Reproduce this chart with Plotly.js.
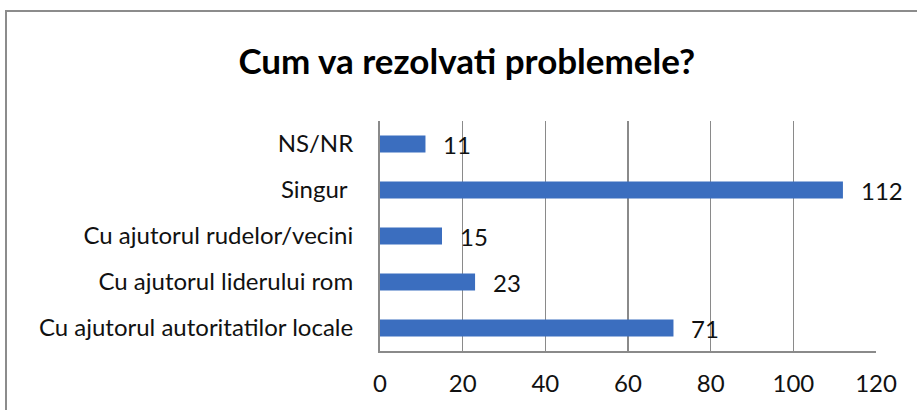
<!DOCTYPE html>
<html>
<head>
<meta charset="utf-8">
<script src="https://cdn.plot.ly/plotly-3.0.1.min.js"></script>
<style>
html,body{margin:0;padding:0;background:#fff;}
#wrap{position:relative;width:917px;height:410px;overflow:hidden;}
#frame{position:absolute;left:5px;top:10px;width:930px;height:420px;border-top:2px solid #8c8c8c;border-left:2px solid #8c8c8c;box-sizing:border-box;pointer-events:none;}
#chart{position:absolute;left:0;top:0;width:917px;height:410px;}
</style>
</head>
<body>
<div id="wrap">
<div id="chart"></div>
<div id="frame"></div>
</div>
<script>
var categories = ["Cu ajutorul autoritatilor locale", "Cu ajutorul liderului rom", "Cu ajutorul rudelor/vecini", "Singur ", "NS/NR"];
var values = [71, 23, 15, 112, 11];
var tickVals = [0, 20, 40, 60, 80, 100, 120];

var font = "Lato, Open Sans, sans-serif";

var trace = {
  type: "bar",
  orientation: "h",
  y: categories,
  x: values,
  marker: {color: "#3b6ebf", line: {width: 0}},
  hoverinfo: "none"
};

var annotations = values.map(function(v, i){
  return {
    x: v, y: categories[i], xref: "x", yref: "y",
    text: String(v), showarrow: false,
    xanchor: "left", yanchor: "middle", xshift: 16,
    font: {family: font, size: 24, color: "#111"}
  };
});

var layout = {
  width: 917, height: 410,
  margin: {l: 380, r: 41, t: 121, b: 59, pad: 0},
  paper_bgcolor: "rgba(0,0,0,0)",
  plot_bgcolor: "#fff",
  showlegend: false,
  bargap: 0.63,
  title: {
    text: "<b>Cum va rezolvati problemele?</b>",
    font: {family: font, size: 35, color: "#000"},
    x: 0.509, xanchor: "center", y: 0.85, yanchor: "middle"
  },
  xaxis: {
    range: [0, 120],
    tickvals: tickVals,
    ticktext: tickVals.map(String),
    showgrid: true, gridcolor: "#8a8a8a", gridwidth: 1.5,
    zeroline: false,
    showline: true, linecolor: "#8a8a8a", linewidth: 2,
    ticks: "", ticklabelstandoff: 10,
    tickfont: {family: font, size: 24, color: "#111"},
    fixedrange: true
  },
  yaxis: {
    type: "category",
    categoryorder: "array",
    categoryarray: categories,
    showgrid: false, zeroline: false,
    showline: true, linecolor: "#8a8a8a", linewidth: 2,
    ticks: "", ticklabelstandoff: 20,
    tickfont: {family: font, size: 24, color: "#111"},
    fixedrange: true
  },
  annotations: annotations
};

Plotly.newPlot("chart", [trace], layout, {displayModeBar: false, staticPlot: true});
</script>
</body>
</html>
